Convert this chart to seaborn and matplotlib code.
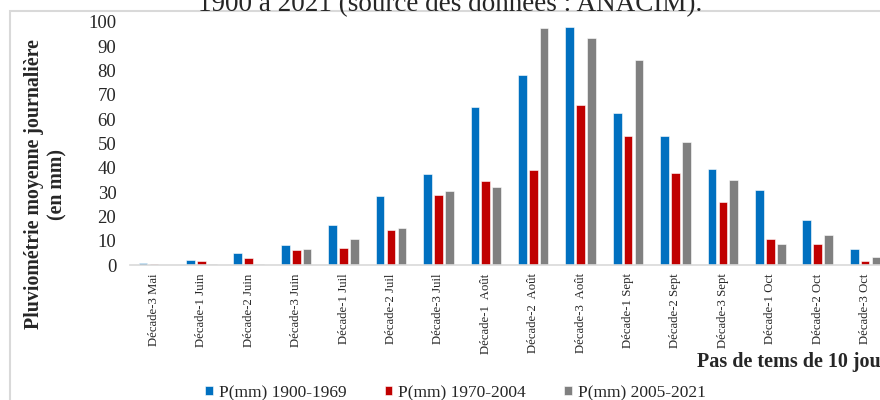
import pandas as pd
import matplotlib.pyplot as plt
import seaborn as sns
from matplotlib.patches import Rectangle

# données (mm)
decades = ['Décade-3 Mai', 'Décade-1 Juin', 'Décade-2 Juin', 'Décade-3 Juin',
           'Décade-1 Juil', 'Décade-2 Juil', 'Décade-3 Juil', 'Décade-1  Août',
           'Décade-2  Août', 'Décade-3  Août', 'Décade-1 Sept', 'Décade-2 Sept',
           'Décade-3 Sept', 'Décade-1 Oct', 'Décade-2 Oct', 'Décade-3 Oct']
p_1900_1969 = [1.0, 2.2, 5.1, 8.3, 16.4, 28.2, 37.4, 64.9, 78.1, 97.9, 62.6, 53.1, 39.6, 30.8, 18.4, 6.6]
p_1970_2004 = [0.6, 1.8, 3.0, 6.2, 7.0, 14.4, 28.9, 34.4, 38.9, 65.6, 52.9, 37.8, 25.8, 10.7, 8.8, 1.6]
p_2005_2021 = [0.0, 0.6, 0.5, 6.6, 10.7, 15.3, 30.4, 31.9, 97.5, 93.3, 84.4, 50.7, 34.9, 8.8, 12.5, 3.3]
periodes = ['P(mm) 1900-1969', 'P(mm) 1970-2004', 'P(mm) 2005-2021']
couleurs = ['#0070C0', '#C00000', '#808080']

df = pd.DataFrame({
    'decade': decades * 3,
    'periode': [periodes[0]] * 16 + [periodes[1]] * 16 + [periodes[2]] * 16,
    'pluie': p_1900_1969 + p_1970_2004 + p_2005_2021,
})

sns.set_theme(style='white')
plt.rcParams['font.family'] = ['Liberation Serif', 'DejaVu Serif']

fig = plt.figure(figsize=(8.8, 4), dpi=100)
ax = fig.add_axes([0.148, 0.3375, 0.862, 0.6083])

sns.barplot(
    data=df, x='decade', y='pluie', hue='periode',
    palette=couleurs, saturation=1, width=0.69, gap=0.2,
    edgecolor='white', linewidth=0.4, ax=ax, legend=True
)

ax.set_ylim(0, 100)
ax.set_yticks(range(0, 101, 10))
ax.tick_params(axis='y', labelsize=13.5, length=0, pad=10)
ax.tick_params(axis='x', labelsize=9.2, length=0, pad=6, rotation=90)
for lab in ax.get_xticklabels():
    lab.set_va('top')
ax.set_xlabel('')
ax.set_ylabel('')
sns.despine(ax=ax, left=True, top=True, right=True)
ax.spines['bottom'].set_color('#D9D9D9')
ax.spines['bottom'].set_linewidth(1.2)

# légende en bas
handles, labels = ax.get_legend_handles_labels()
ax.get_legend().remove()
fig.legend(handles, labels, loc='center', bbox_to_anchor=(0.5176, 0.0175), ncol=3,
           frameon=False, fontsize=12.5, handlelength=0.45, handleheight=0.45,
           handletextpad=0.35, columnspacing=2.2, borderpad=0)

# titres des axes
fig.text(0.052, 0.54, 'Pluviométrie moyenne journalière\n(en mm)', rotation=90,
         ha='center', va='center', fontsize=14.3, fontweight='bold', linespacing=1.25)
fig.text(0.792, 0.095, 'Pas de tems de 10 jours', ha='left', va='center',
         fontsize=14.5, fontweight='bold')

# bout du titre coupé en haut et cadre
fig.text(0.512, 1 - 11 / 400, '1900 à 2021 (source des données : ANACIM).',
         ha='center', va='baseline', fontsize=19.5)
fig.patches.append(Rectangle((10 / 880, -0.1), 1.2, 1.1 - 11 / 400, transform=fig.transFigure,
                             fill=False, edgecolor='#D9D9D9', linewidth=1.5))

fig.savefig('out.png', dpi=100)
